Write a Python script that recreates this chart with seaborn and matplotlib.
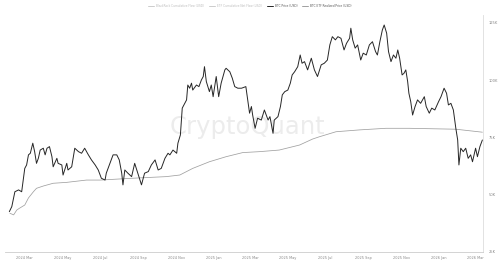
import numpy as np
import pandas as pd
import matplotlib
matplotlib.use("Agg")
import matplotlib.pyplot as plt
from matplotlib.lines import Line2D
import seaborn as sns

# ---- data (days since 2024-01-01, values in thousand USD) ----
price_days = [35, 39, 44, 50, 55, 60, 63, 66, 69, 73, 76, 79, 82, 85, 90, 93, 96, 100, 104, 106,
              112, 114, 120, 122, 128, 130, 136, 141, 147, 152, 157, 163, 168, 174, 179, 184, 190, 192, 198, 203,
              209, 213, 217, 219, 222, 227, 233, 238, 244, 249, 254, 260, 265, 271, 276, 281, 287, 292, 295, 300,
              306, 308, 312, 315, 319, 322, 324, 327, 330, 332, 338, 342, 346, 349, 351, 354, 359, 362, 365, 370,
              374, 378, 384, 386, 392, 396, 400, 405, 411, 418, 421, 424, 427, 429, 433, 437, 443, 448, 454, 457,
              462, 464, 470, 474, 477, 481, 486, 490, 493, 497, 502, 506, 509, 513, 518, 524, 529, 534, 540, 545,
              550, 554, 558, 563, 567, 572, 577, 581, 586, 588, 591, 595, 599, 604, 608, 613, 618, 623, 628, 631,
              635, 639, 642, 646, 649, 653, 657, 661, 664, 667, 671, 674, 677, 680, 682, 685, 688, 692, 696, 701,
              707, 710, 715, 719, 724, 730, 734, 739, 743, 746, 750, 754, 758, 761, 763, 766, 770, 774, 778, 782,
              785, 790, 793, 797, 801]
price_k = [42.6, 44.8, 51.3, 52.1, 51.3, 61.5, 63.0, 67.4, 68.1, 72.5, 68.8, 63.7, 65.9, 69.5, 70.3, 67.4, 70.3, 71.0, 66.6, 62.2,
           65.9, 63.7, 63.0, 58.6, 63.7, 60.8, 62.2, 70.3, 68.8, 68.1, 70.3, 67.4, 65.2, 63.0, 60.8, 57.2, 56.4, 59.4, 63.7, 67.4,
           67.4, 65.2, 59.4, 54.3, 60.8, 59.4, 57.9, 63.7, 58.6, 54.3, 59.4, 60.1, 63.0, 65.2, 60.8, 61.5, 65.9, 68.1, 67.4, 69.5,
           68.1, 72.5, 76.1, 87.8, 89.9, 91.4, 97.9, 96.5, 98.7, 95.7, 97.9, 97.2, 100.1, 101.6, 105.9, 99.4, 95.0, 97.9, 92.8, 101.6,
           92.8, 98.7, 104.5, 105.2, 103.7, 100.9, 97.2, 96.5, 96.5, 97.2, 91.4, 85.6, 88.5, 84.8, 79.0, 83.4, 82.6, 87.0, 82.6, 84.1,
           76.8, 82.6, 84.1, 88.5, 93.6, 95.0, 95.7, 98.7, 102.3, 103.7, 105.9, 111.0, 107.4, 108.1, 104.5, 109.6, 104.5, 101.6, 106.7, 107.4,
           108.8, 115.4, 119.0, 117.6, 119.0, 118.3, 113.2, 116.1, 118.3, 122.7, 117.6, 114.0, 115.4, 108.8, 111.8, 111.0, 115.4, 116.8, 112.5, 111.0,
           116.8, 121.9, 124.1, 120.5, 112.5, 108.1, 111.0, 109.6, 113.2, 109.6, 102.3, 103.0, 104.5, 99.4, 94.3, 90.6, 84.8, 88.5, 91.4, 89.9,
           92.8, 88.5, 85.6, 87.8, 87.0, 90.6, 92.8, 96.5, 94.3, 89.2, 89.9, 87.0, 79.0, 73.9, 63.0, 70.3, 68.8, 70.3, 65.9, 67.4,
           64.4, 70.3, 66.6, 71.0, 73.9]

realized_days = [36, 42, 47, 52, 60, 66, 74, 79, 90, 106, 128, 160, 182, 235, 289, 311, 332, 359, 386, 413,
                 440, 472, 505, 526, 537, 564, 602, 645, 682, 758, 801]
realized_k = [41.9, 41.2, 43.3, 44.2, 45.5, 48.6, 51.3, 52.8, 53.8, 55.0, 55.4, 56.4, 56.4, 57.2, 57.9, 58.6, 61.5, 64.4, 66.6, 68.4,
              68.8, 69.5, 71.7, 74.3, 75.3, 77.5, 78.3, 79.0, 79.0, 78.6, 77.3]

y_ticks = [25, 50, 75, 100, 125]
y_tick_labels = ["25K", "50K", "75K", "100K", "125K"]
x_tick_dates = ["2024-03-01", "2024-05-01", "2024-07-01", "2024-09-01", "2024-11-01", "2025-01-01", "2025-03-01",
                "2025-05-01", "2025-07-01", "2025-09-01", "2025-11-01", "2026-01-01", "2026-03-01"]
x_tick_labels = ["2024 Mar", "2024 May", "2024 Jul", "2024 Sep", "2024 Nov", "2025 Jan", "2025 Mar",
                 "2025 May", "2025 Jul", "2025 Sep", "2025 Nov", "2026 Jan", "2026 Mar"]
legend_labels = ["BlackRock Cumulative Flow (USD)", "ETF Cumulative Net Flow (USD)",
                 "BTC Price (USD)", "BTC ETF Realized Price (USD)"]

base = pd.Timestamp("2024-01-01")
price_df = pd.DataFrame({"date": base + pd.to_timedelta(price_days, unit="D"), "value": price_k})
real_df = pd.DataFrame({"date": base + pd.to_timedelta(realized_days, unit="D"), "value": realized_k})

sns.set_style("white")
plt.rcParams["font.family"] = ["DejaVu Sans"]

fig = plt.figure(figsize=(5.0, 2.64), dpi=100)
ax = fig.add_axes([0.01, 0.0455, 0.956, 0.898])

ax.text(0.508, 0.527, "CryptoQuant", transform=ax.transAxes, ha="center", va="center",
        fontsize=17.5, color="#ececec", zorder=0)

sns.lineplot(data=real_df, x="date", y="value", ax=ax, color="#a0a0a0", linewidth=0.55, zorder=2)
sns.lineplot(data=price_df, x="date", y="value", ax=ax, color="#262626", linewidth=0.7, zorder=3)

ax.set_xlim(base + pd.Timedelta(days=28), base + pd.Timedelta(days=802))
ax.set_ylim(25, 128.5)
ax.yaxis.tick_right()
ax.set_yticks(y_ticks)
ax.set_yticklabels(y_tick_labels)
ax.set_xticks(pd.to_datetime(x_tick_dates))
ax.set_xticklabels(x_tick_labels)
ax.tick_params(axis="x", length=0, labelsize=2.5, labelcolor="#888888", pad=3)
ax.tick_params(axis="y", length=0, labelsize=2.6, labelcolor="#888888", pad=4)
ax.set_xlabel("")
ax.set_ylabel("")
for s in ["top", "left"]:
    ax.spines[s].set_visible(False)
ax.spines["right"].set_color("#dddddd")
ax.spines["right"].set_linewidth(0.6)
ax.spines["bottom"].set_color("#cccccc")
ax.spines["bottom"].set_linewidth(0.6)

handles = [Line2D([], [], color="#cccccc", lw=0.7),
           Line2D([], [], color="#cccccc", lw=0.7),
           Line2D([], [], color="#262626", lw=0.7),
           Line2D([], [], color="#a0a0a0", lw=0.7)]
leg = fig.legend(handles, legend_labels, loc="center", bbox_to_anchor=(0.5, 0.977), ncol=4,
                 fontsize=2.1, frameon=False, handlelength=2.0, handletextpad=0.7, columnspacing=1.7)
for t, c in zip(leg.get_texts(), ["#bbbbbb", "#bbbbbb", "#555555", "#555555"]):
    t.set_color(c)

fig.savefig("out.png", dpi=100, facecolor="white")
